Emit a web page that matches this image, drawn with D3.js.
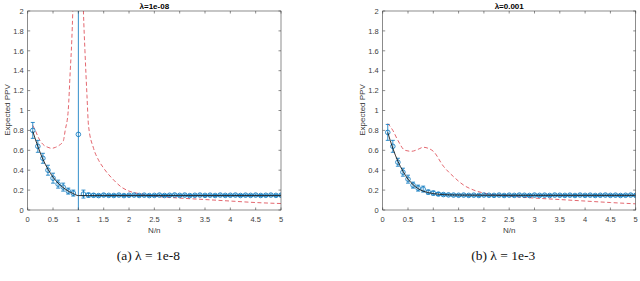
<!DOCTYPE html>
<html><head><meta charset="utf-8">
<script src="https://cdn.jsdelivr.net/npm/d3@7"></script>
<style>body{margin:0;background:#fff}svg{display:block}</style>
</head><body>
<svg id="c" width="640" height="281"></svg>
<script>
// ---------- data ----------
const xTicks = [0,0.5,1,1.5,2,2.5,3,3.5,4,4.5,5];
const yTicks = [0,0.2,0.4,0.6,0.8,1,1.2,1.4,1.6,1.8,2];
const ratio = [0.1,0.2,0.3,0.4,0.5,0.6,0.7,0.8,0.9,1.0,1.1,1.2,1.3,1.4,1.5,1.6,1.7,1.8,1.9,2.0,2.1,2.2,2.3,2.4,2.5,2.6,2.7,2.8,2.9,3.0,3.1,3.2,3.3,3.4,3.5,3.6,3.7,3.8,3.9,4.0,4.1,4.2,4.3,4.4,4.5,4.6,4.7,4.8,4.9,5.0];

const simA = [0.80,0.64,0.52,0.40,0.32,0.26,0.23,0.19,0.17,0.76,0.16,0.15,0.148,0.145,0.150,0.147,0.146,0.150,0.145,0.148,0.150,0.146,0.149,0.145,0.147,0.150,0.146,0.148,0.151,0.147,0.150,0.145,0.148,0.150,0.147,0.149,0.146,0.150,0.147,0.148,0.150,0.146,0.149,0.147,0.150,0.146,0.148,0.150,0.147,0.149];
const errA = [0.08,0.06,0.05,0.05,0.05,0.04,0.04,0.03,0.03,3.0,0.04,0.02,0.015,0.012,0.012,0.01,0.01,0.01,0.01,0.01,0.01,0.01,0.01,0.01,0.01,0.01,0.01,0.01,0.01,0.01,0.01,0.01,0.01,0.01,0.01,0.01,0.01,0.01,0.01,0.01,0.01,0.01,0.01,0.01,0.01,0.01,0.01,0.01,0.01,0.01];
const simB = [0.78,0.64,0.48,0.38,0.31,0.25,0.22,0.21,0.18,0.17,0.16,0.155,0.152,0.150,0.148,0.150,0.147,0.149,0.146,0.150,0.148,0.147,0.150,0.146,0.149,0.147,0.150,0.148,0.146,0.150,0.147,0.149,0.146,0.150,0.148,0.147,0.149,0.146,0.150,0.147,0.149,0.146,0.148,0.150,0.147,0.149,0.146,0.148,0.150,0.147];
const errB = [0.08,0.06,0.04,0.04,0.04,0.03,0.03,0.03,0.02,0.02,0.015,0.012,0.01,0.01,0.01,0.01,0.01,0.01,0.01,0.01,0.01,0.01,0.01,0.01,0.01,0.01,0.01,0.01,0.01,0.01,0.01,0.01,0.01,0.01,0.01,0.01,0.01,0.01,0.01,0.01,0.01,0.01,0.01,0.01,0.01,0.01,0.01,0.01,0.01,0.01];

const theoX = [0.1,0.2,0.3,0.4,0.5,0.6,0.7,0.8,0.9,1.0,1.2,1.5,2,3,4,5];
const theoA = [0.79,0.64,0.51,0.41,0.33,0.27,0.225,0.19,0.165,0.145,0.145,0.145,0.145,0.145,0.145,0.145];
const theoB = [0.78,0.62,0.49,0.39,0.31,0.255,0.215,0.19,0.175,0.165,0.155,0.15,0.148,0.147,0.147,0.147];

const approxA1X = [0.1,0.15,0.2,0.3,0.4,0.47,0.55,0.62,0.7,0.74,0.8,0.84,0.87,0.89,0.91];
const approxA1Y = [0.85,0.80,0.74,0.66,0.63,0.62,0.63,0.65,0.69,0.80,1.0,1.4,1.7,2.0,2.4];
const approxA2X = [1.08,1.1,1.13,1.17,1.2,1.3,1.4,1.5,1.7,1.85,2.0,2.25,2.5,3,3.5,4,4.5,5];
const approxA2Y = [2.4,2.0,1.6,1.15,0.85,0.62,0.50,0.42,0.30,0.23,0.19,0.16,0.14,0.12,0.105,0.09,0.075,0.065];
const approxBX = [0.1,0.2,0.3,0.44,0.57,0.7,0.8,0.9,1.0,1.2,1.4,1.6,1.8,2.0,2.5,3,3.5,4,4.5,5];
const approxBY = [0.87,0.80,0.70,0.60,0.59,0.61,0.63,0.62,0.59,0.44,0.335,0.25,0.20,0.17,0.14,0.12,0.105,0.09,0.075,0.062];

const titles = ["λ=1e-08","λ=0.001"];
const captions = ["(a) λ = 1e-8","(b) λ = 1e-3"];

// ---------- drawing ----------
const svg = d3.select("#c");
const BLUE = "#0072BD", RED = "#e0575f", AX = "#404040";
const panels = [
  {x0:27.7, x1:281, sim:simA, err:errA, theo:theoA, red:[[approxA1X,approxA1Y],[approxA2X,approxA2Y]], title:titles[0], cap:captions[0], ylx:7},
  {x0:382.7, x1:635.7, sim:simB, err:errB, theo:theoB, red:[[approxBX,approxBY]], title:titles[1], cap:captions[1], ylx:362}
];
const yTop = 11, yBot = 210;

panels.forEach((p,i)=>{
  const x = d3.scaleLinear().domain([0,5]).range([p.x0,p.x1]);
  const y = d3.scaleLinear().domain([0,2]).range([yBot,yTop]);
  const g = svg.append("g");
  const cid = "clip"+i;
  svg.append("clipPath").attr("id",cid).append("rect")
    .attr("x",p.x0).attr("y",yTop).attr("width",p.x1-p.x0).attr("height",yBot-yTop);

  const plot = g.append("g").attr("clip-path",`url(#${cid})`);

  // red dashed approximation
  const redLine = d3.line().x(d=>x(d[0])).y(d=>y(d[1])).curve(d3.curveMonotoneX);
  p.red.forEach(([xs,ys])=>{
    plot.append("path").datum(xs.map((v,k)=>[v,ys[k]]))
      .attr("d",redLine).attr("fill","none").attr("stroke",RED)
      .attr("stroke-width",1).attr("stroke-dasharray","4,2.5").attr("opacity",0.9);
  });

  // error bars
  const eb = plot.append("g").attr("stroke",BLUE).attr("stroke-width",0.8).attr("fill","none");
  ratio.forEach((r,k)=>{
    const v=p.sim[k], e=p.err[k];
    eb.append("line").attr("x1",x(r)).attr("x2",x(r)).attr("y1",y(v-e)).attr("y2",y(v+e));
    if (e < 1) {
      [v-e,v+e].forEach(t=>eb.append("line").attr("x1",x(r)-2).attr("x2",x(r)+2).attr("y1",y(t)).attr("y2",y(t)));
    }
  });
  // markers
  plot.append("g").selectAll("circle").data(ratio).join("circle")
    .attr("cx",d=>x(d)).attr("cy",(d,k)=>y(p.sim[k])).attr("r",2.3)
    .attr("fill","none").attr("stroke",BLUE).attr("stroke-width",0.8);

  // black theoretical curve
  plot.append("path").datum(theoX.map((v,k)=>[v,p.theo[k]]))
    .attr("d",d3.line().x(d=>x(d[0])).y(d=>y(d[1])).curve(d3.curveMonotoneX))
    .attr("fill","none").attr("stroke","#1a1a1a").attr("stroke-width",0.9);

  // box
  g.append("rect").attr("x",p.x0).attr("y",yTop).attr("width",p.x1-p.x0).attr("height",yBot-yTop)
    .attr("fill","none").attr("stroke",AX).attr("stroke-width",0.6);

  // ticks (inward, both sides)
  const tk = g.append("g").attr("stroke",AX).attr("stroke-width",0.6);
  xTicks.forEach(t=>{
    tk.append("line").attr("x1",x(t)).attr("x2",x(t)).attr("y1",yBot).attr("y2",yBot-2.5);
    tk.append("line").attr("x1",x(t)).attr("x2",x(t)).attr("y1",yTop).attr("y2",yTop+2.5);
  });
  yTicks.forEach(t=>{
    tk.append("line").attr("x1",p.x0).attr("x2",p.x0+2.5).attr("y1",y(t)).attr("y2",y(t));
    tk.append("line").attr("x1",p.x1).attr("x2",p.x1-2.5).attr("y1",y(t)).attr("y2",y(t));
  });

  const font = "'Liberation Sans', Arial, sans-serif";
  g.append("g").selectAll("text").data(xTicks).join("text")
    .attr("x",d=>x(d)).attr("y",222).attr("text-anchor","middle")
    .attr("font-family",font).attr("font-size",7.5).attr("fill",AX).text(d=>d);
  g.append("g").selectAll("text").data(yTicks).join("text")
    .attr("x",p.x0-4).attr("y",d=>y(d)+2.7).attr("text-anchor","end")
    .attr("font-family",font).attr("font-size",7.5).attr("fill",AX).text(d=>d);

  g.append("text").attr("x",(p.x0+p.x1)/2).attr("y",232.5).attr("text-anchor","middle")
    .attr("font-family",font).attr("font-size",8).attr("fill",AX).text("N/n");
  g.append("text").attr("transform",`translate(${p.ylx+2.5},110) rotate(-90)`).attr("text-anchor","middle")
    .attr("font-family",font).attr("font-size",8).attr("fill",AX).text("Expected PPV");
  g.append("text").attr("x",(p.x0+p.x1)/2).attr("y",8.5).attr("text-anchor","middle")
    .attr("font-family",font).attr("font-size",8).attr("font-weight","bold").attr("fill","#000").text(p.title);
  g.append("text").attr("x",(p.x0+p.x1)/2 - 6).attr("y",260).attr("text-anchor","middle")
    .attr("font-family","'Liberation Serif', 'DejaVu Serif', serif").attr("font-size",13.5).attr("fill","#111").text(p.cap);
});
</script>
</body></html>
